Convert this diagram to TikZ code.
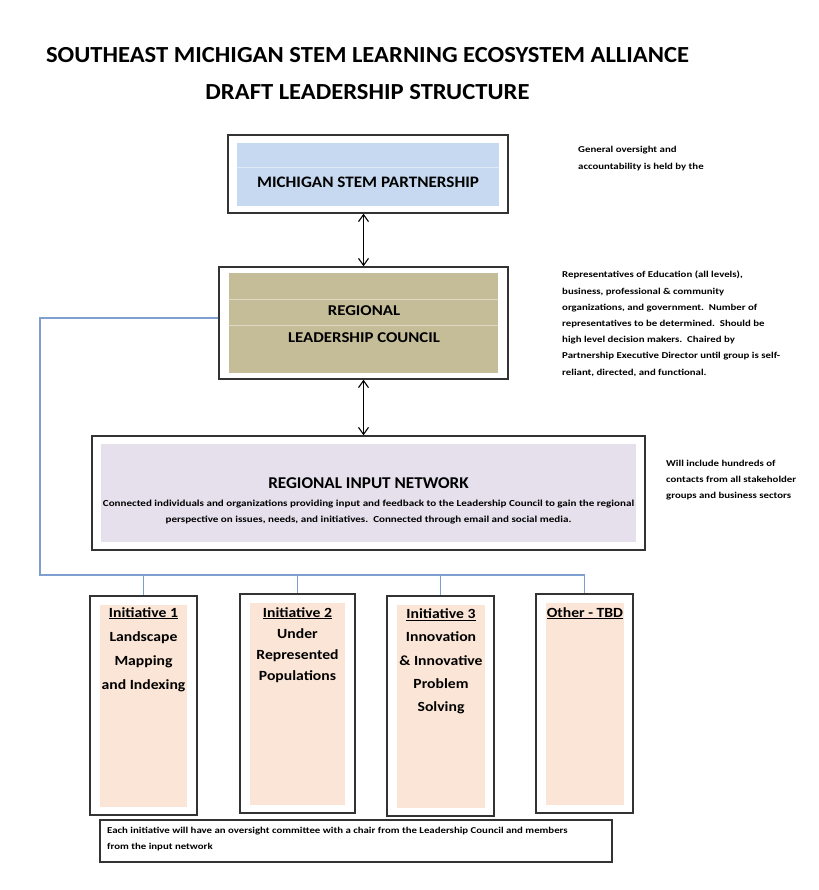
\documentclass[tikz,border=0pt]{standalone}
\usepackage{fontspec}
\setmainfont{Carlito}
\newfontfamily\fsA{Carlito}[FakeStretch=1.2]
\newfontfamily\fsB{Carlito}[FakeStretch=1.12]
\newfontfamily\fsC{Carlito}[FakeStretch=1.07]
\newfontfamily\fsD{Carlito}[FakeStretch=1.04]
\usetikzlibrary{arrows.meta}
\definecolor{mspblue}{HTML}{C6D9F1}
\definecolor{rlctan}{HTML}{C4BD97}
\definecolor{rinlav}{HTML}{E5E0EC}
\definecolor{initpeach}{HTML}{FBE5D6}
\definecolor{linkblue}{HTML}{7F9FD0}
\definecolor{framegray}{HTML}{333333}
\begin{document}
\begin{tikzpicture}[x=1pt,y=-1pt,
  outerbox/.style={draw=framegray, line width=1.4pt, fill=white, inner sep=0pt},
  innerfill/.style={fill=#1, draw=none, inner sep=0pt},
  dbl/.style={{Straight Barb[length=7pt,width=10pt]}-{Straight Barb[length=7pt,width=10pt]}, line width=1.1pt, black},
  link/.style={draw=linkblue, line width=1.1pt},
  sidenote/.style={anchor=north west, align=left, inner sep=0pt, font=\fsA\fontsize{9}{16.2}\selectfont\bfseries},
  inittext/.style={anchor=north, align=center, inner sep=0pt, font=\fsB\fontsize{14}{#1}\selectfont\bfseries},
  faint/.style={draw=white, line width=0.8pt, opacity=0.45}
]
\useasboundingbox (0,0) rectangle (818,890);

% Title
\node[font=\fsC\fontsize{23}{26}\selectfont\bfseries] (title1) at (367.5,55) {SOUTHEAST MICHIGAN STEM LEARNING ECOSYSTEM ALLIANCE};
\node[font=\fsC\fontsize{23}{26}\selectfont\bfseries] (title2) at (367.5,92) {DRAFT LEADERSHIP STRUCTURE};

% Michigan STEM Partnership
\node[outerbox, minimum width=280pt, minimum height=78pt] (msp) at (368,174) {};
\node[innerfill=mspblue, minimum width=262pt, minimum height=63pt] (mspin) at (368,174.5) {};
\draw[faint] (mspin.west |- 0,167) -- (mspin.east |- 0,167);
\node[font=\fsC\fontsize{16}{18}\selectfont\bfseries] (msptext) at (368,182) {MICHIGAN STEM PARTNERSHIP};

% Regional Leadership Council
\node[outerbox, minimum width=289pt, minimum height=112pt] (rlc) at (363.5,323) {};
\node[innerfill=rlctan, minimum width=269pt, minimum height=100pt] (rlcin) at (363.5,323) {};
\draw[faint] (rlcin.west |- 0,299) -- (rlcin.east |- 0,299);
\draw[faint] (rlcin.west |- 0,325) -- (rlcin.east |- 0,325);
\node[font=\fsB\fontsize{15}{17}\selectfont\bfseries] (rlct1) at (364,311) {REGIONAL};
\node[font=\fsB\fontsize{15}{17}\selectfont\bfseries] (rlct2) at (364,338) {LEADERSHIP COUNCIL};

% Regional Input Network
\node[outerbox, minimum width=553pt, minimum height=114pt] (rin) at (368.5,493) {};
\node[innerfill=rinlav, minimum width=535pt, minimum height=98pt] (rinin) at (368.5,493) {};
\node[font=\fsD\fontsize{16.5}{18}\selectfont\bfseries] (rint) at (368.5,483) {REGIONAL INPUT NETWORK};
\node[font=\fsA\fontsize{9.2}{16}\selectfont\bfseries, align=center, inner sep=0pt] (rinbody) at (368.5,512) {Connected individuals and organizations providing input and feedback to the Leadership Council to gain the regional\\perspective on issues, needs, and initiatives.\ \ Connected through email and social media.};

% Arrows
\draw[dbl] (rlc.north |- msp.south) -- (rlc.north);
\draw[dbl] (rlc.south) -- (rlc.south |- rin.north);

% Initiative boxes
\node[outerbox, minimum width=107pt, minimum height=219pt] (init1) at (143.5,705.5) {};
\node[innerfill=initpeach, minimum width=87pt, minimum height=202pt] (init1in) at (143.5,706) {};
\node[inittext=24.3] (init1t) at (143.5,607) {\underline{Initiative 1}\\Landscape\\Mapping\\and Indexing};

\node[outerbox, minimum width=115pt, minimum height=219pt] (init2) at (297.5,703.5) {};
\node[innerfill=initpeach, minimum width=95pt, minimum height=202pt] (init2in) at (297.5,704) {};
\node[inittext=21.3] (init2t) at (297.5,607) {\underline{Initiative 2}\\Under\\Represented\\Populations};

\node[outerbox, minimum width=107pt, minimum height=220pt] (init3) at (440.5,706) {};
\node[innerfill=initpeach, minimum width=88pt, minimum height=203pt] (init3in) at (441,706.5) {};
\node[inittext=23.3] (init3t) at (441,608.5) {\underline{Initiative 3}\\Innovation\\\& Innovative\\Problem\\Solving};

\node[outerbox, minimum width=97pt, minimum height=219pt] (init4) at (584.5,703.5) {};
\node[innerfill=initpeach, minimum width=78pt, minimum height=202pt] (init4in) at (585,704) {};
\node[inittext=20] (init4t) at (585,607) {\underline{Other - TBD}};

% Blue connectors
\coordinate (busL) at (40,575);
\coordinate (busR) at (584.5,575);
\draw[link] ([yshift=5pt]rlc.west) -| (busL) -- (busR);
\draw[link] (init1.north |- busL) -- (init1.north);
\draw[link] (init2.north |- busL) -- (init2.north);
\draw[link] (init3.north |- busL) -- (init3.north);
\draw[link] (busR) -- (init4.north);

% Bottom note
\node[draw=framegray, line width=1.3pt, minimum width=512pt, minimum height=42pt, inner sep=0pt] (note) at (356,841) {};
\node[sidenote, font=\fsA\fontsize{9}{16}\selectfont\bfseries] (notetext) at (107,827) {Each initiative will have an oversight committee with a chair from the Leadership Council and members\\from the input network};

% Side notes
\node[sidenote, font=\fsA\fontsize{9}{17}\selectfont\bfseries] (note1) at (578,146) {General oversight and\\accountability is held by the};
\node[sidenote] (note2) at (562,271) {Representatives of Education (all levels),\\business, professional \& community\\organizations, and government.\ \ Number of\\representatives to be determined.\ \ Should be\\high level decision makers.\ \ Chaired by\\Partnership Executive Director until group is self-\\reliant, directed, and functional.};
\node[sidenote] (note3) at (666,460) {Will include hundreds of\\contacts from all stakeholder\\groups and business sectors};
\end{tikzpicture}
\end{document}
